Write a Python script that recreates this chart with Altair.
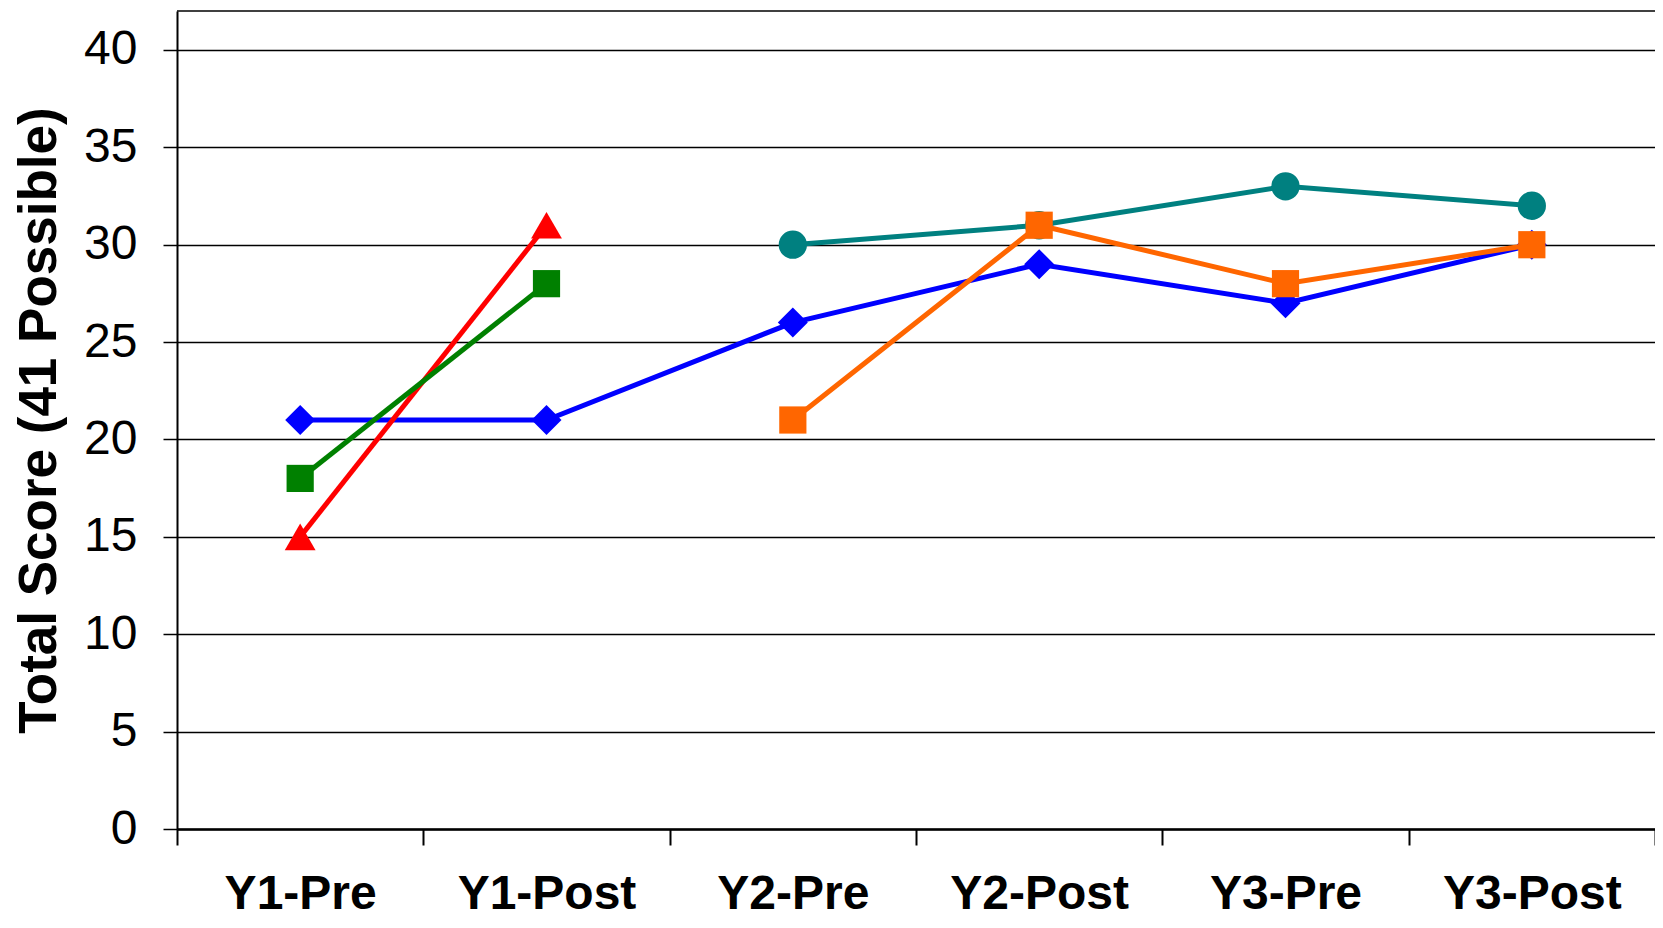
import altair as alt
import pandas as pd

categories = ["Y1-Pre", "Y1-Post", "Y2-Pre", "Y2-Post", "Y3-Pre", "Y3-Post"]

blue_cats = ["Y1-Pre", "Y1-Post", "Y2-Pre", "Y2-Post", "Y3-Pre", "Y3-Post"]
blue_vals = [21, 21, 26, 29, 27, 30]

red_cats = ["Y1-Pre", "Y1-Post"]
red_vals = [15, 31]

green_cats = ["Y1-Pre", "Y1-Post"]
green_vals = [18, 28]

teal_cats = ["Y2-Pre", "Y2-Post", "Y3-Pre", "Y3-Post"]
teal_vals = [30, 31, 33, 32]

orange_cats = ["Y2-Pre", "Y2-Post", "Y3-Pre", "Y3-Post"]
orange_vals = [21, 31, 28, 30]

series = [
    ("blue", blue_cats, blue_vals, "#0000FF", "diamond", 900),
    ("red", red_cats, red_vals, "#FF0000", "triangle-up", 950),
    ("green", green_cats, green_vals, "#008000", "square", 740),
    ("teal", teal_cats, teal_vals, "#008080", "circle", 800),
    ("orange", orange_cats, orange_vals, "#FF6600", "square", 740),
]

FONT = "Liberation Sans"

x_enc = alt.X(
    "cat:N",
    sort=categories,
    scale=alt.Scale(domain=categories, paddingInner=0, paddingOuter=0),
    axis=alt.Axis(
        title=None,
        labelAngle=0,
        tickBand="extent",
        tickSize=16,
        tickColor="black",
        tickWidth=2,
        domainColor="black",
        domainWidth=2.5,
        labelPadding=63,
        labelBaseline="alphabetic",
        labelFontSize=48,
        labelFontWeight="bold",
        labelFont=FONT,
        labelColor="black",
        labelLimit=0,
        grid=False,
    ),
)

y_enc = alt.Y(
    "val:Q",
    scale=alt.Scale(domain=[0, 42], nice=False, zero=True),
    axis=alt.Axis(
        values=list(range(0, 41, 5)),
        tickSize=14,
        tickColor="black",
        tickWidth=1.5,
        domainColor="black",
        domainWidth=2,
        labelPadding=26,
        labelFontSize=48,
        labelFont=FONT,
        labelColor="black",
        labelLimit=0,
        grid=True,
        gridColor="black",
        gridWidth=1.3,
        title="Total Score (41 Possible)",
        titleFont=FONT,
        titleFontSize=53,
        titleFontWeight="bold",
        titleColor="black",
        titleAngle=270,
        titleAlign="center",
        titleBaseline="alphabetic",
        titleX=-122,
        titleY=409,
    ),
)

layers = []
top_rule = alt.Chart(pd.DataFrame({"val": [42]})).mark_rule(
    color="black", strokeWidth=1.5
).encode(y=y_enc)
layers.append(top_rule)

for name, cats, vals, color, shape, size in series:
    df = pd.DataFrame({"cat": cats, "val": vals})
    base = alt.Chart(df)
    layers.append(
        base.mark_line(color=color, strokeWidth=5).encode(x=x_enc, y=y_enc)
    )
    layers.append(
        base.mark_point(
            color=color, shape=shape, size=size, filled=True, opacity=1, strokeWidth=0
        ).encode(x=x_enc, y=y_enc)
    )

chart = (
    alt.layer(*layers)
    .properties(
        width=1478,
        height=818,
        autosize=alt.AutoSizeParams(type="none"),
        padding={"left": 169, "top": 3, "right": 0, "bottom": 91},
        background="white",
    )
    .configure_view(stroke=None)
)

chart.save("out.html", embed_options={"renderer": "svg", "actions": False})
